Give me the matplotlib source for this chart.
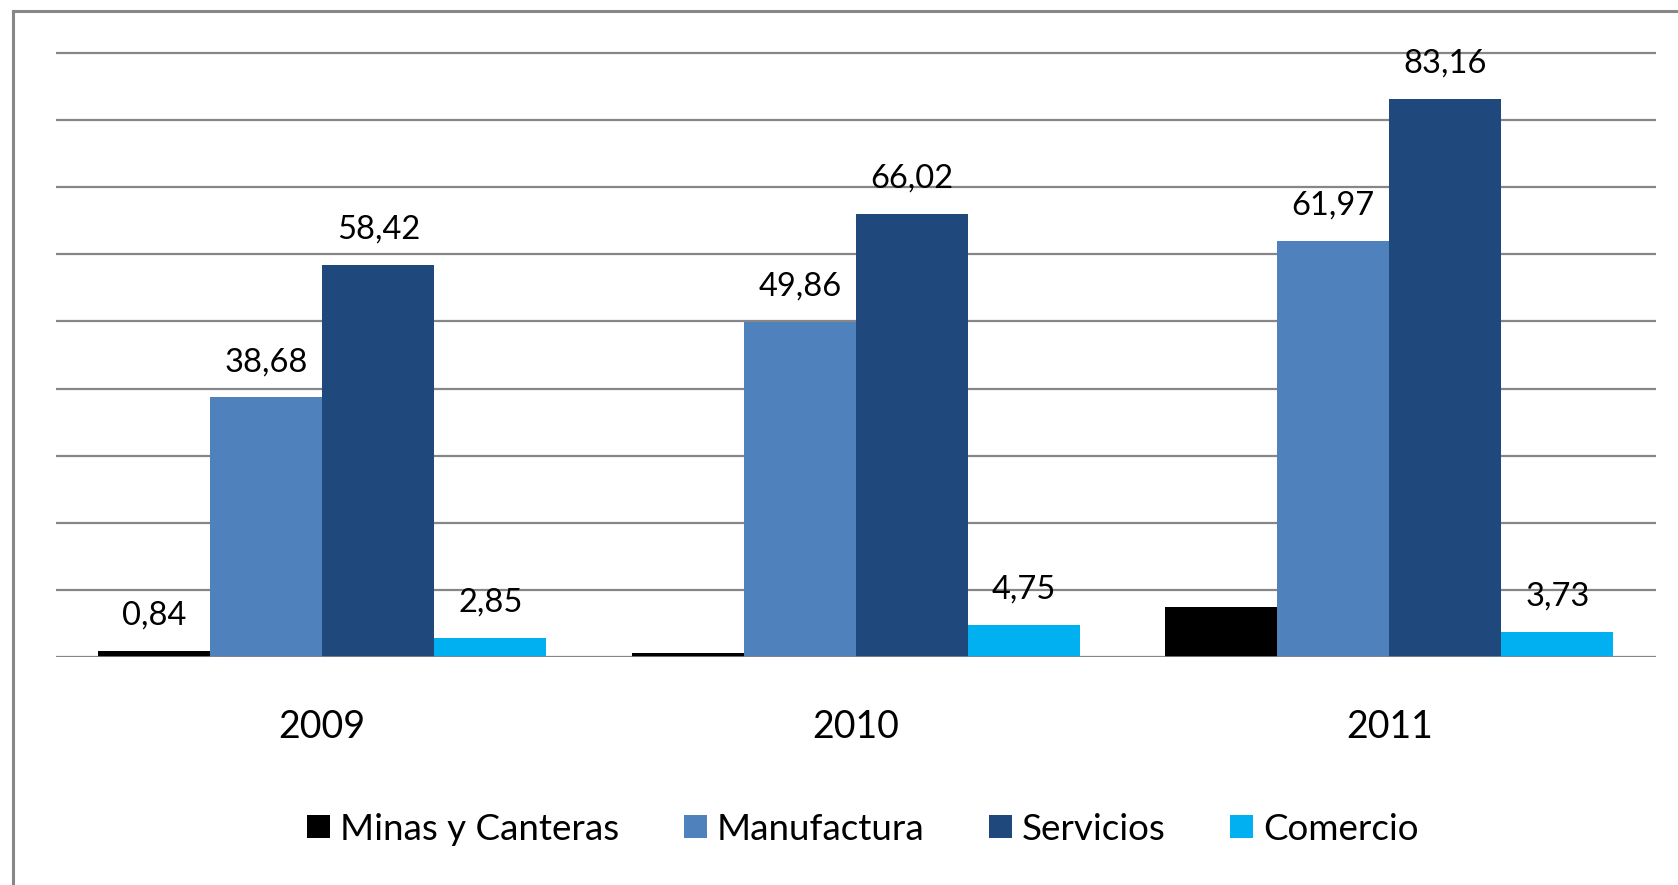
import numpy as np
import matplotlib
matplotlib.use("Agg")
from matplotlib import pyplot as plt
from matplotlib.lines import Line2D
from matplotlib.patches import Patch

plt.rcParams['font.family'] = ['Lato', 'DejaVu Sans']

years = ["2009", "2010", "2011"]
series = ["Minas y Canteras", "Manufactura", "Servicios", "Comercio"]
minas = [0.84, 0.6, 7.5]
manufactura = [38.68, 49.86, 61.97]
servicios = [58.42, 66.02, 83.16]
comercio = [2.85, 4.75, 3.73]
# only some bars carry a value label in the original
minas_labelled = [True, False, False]

colors = ["#000000", "#4F81BD", "#1F497D", "#00B0F0"]
values = [minas, manufactura, servicios, comercio]
labelled = [minas_labelled, [True] * 3, [True] * 3, [True] * 3]

fig = plt.figure(figsize=(16.78, 8.85), dpi=100)
ax = fig.add_axes([0.0331, 0.2576, 0.9869 - 0.0331, 0.9477 - 0.2576])

x = np.arange(len(years))
w = 0.21
for i, (vals, col, show) in enumerate(zip(values, colors, labelled)):
    xs = x + (i - 1.5) * w
    ax.bar(xs, vals, width=w, color=col, zorder=2)
    for xi, v, s in zip(xs, vals, show):
        if s:
            ax.annotate(f"{v:.2f}".replace(".", ","), xy=(xi, v), xytext=(0, 19),
                        textcoords="offset points", ha="center", va="baseline",
                        fontsize=23.5, color="black", zorder=3)

ax.set_xlim(-0.5, 2.5)
ax.set_ylim(0, 91)
ax.set_yticks(np.arange(0, 100, 10))
ax.yaxis.grid(True, color="#868686", linewidth=1.6, zorder=0)
ax.set_axisbelow(True)
ax.axhline(0, color="#868686", linewidth=1.9, zorder=4)
ax.tick_params(axis="y", left=False, labelleft=False)
ax.set_xticks(x)
ax.set_xticklabels(years, fontsize=27)
ax.tick_params(axis="x", length=0, pad=58)
for lab in ax.get_xticklabels():
    lab.set_va("baseline")
for sp in ax.spines.values():
    sp.set_visible(False)

handles = [Patch(facecolor=c, edgecolor="none") for c in colors]
fig.legend(handles, series, loc="center", bbox_to_anchor=(863 / 1678, 1 - 829 / 885),
           ncol=4, frameon=False, fontsize=26.5, handlelength=0.62, handleheight=0.62,
           handletextpad=0.28, columnspacing=1.75)

# outer chart frame (only top and left edges are visible)
fig.add_artist(Line2D([13 / 1678, 1], [1 - 10.5 / 885, 1 - 10.5 / 885],
                      transform=fig.transFigure, color="#878787", linewidth=2.2))
fig.add_artist(Line2D([13 / 1678, 13 / 1678], [0, 1 - 10.5 / 885],
                      transform=fig.transFigure, color="#878787", linewidth=2.2))

fig.savefig("out.png", dpi=100)
